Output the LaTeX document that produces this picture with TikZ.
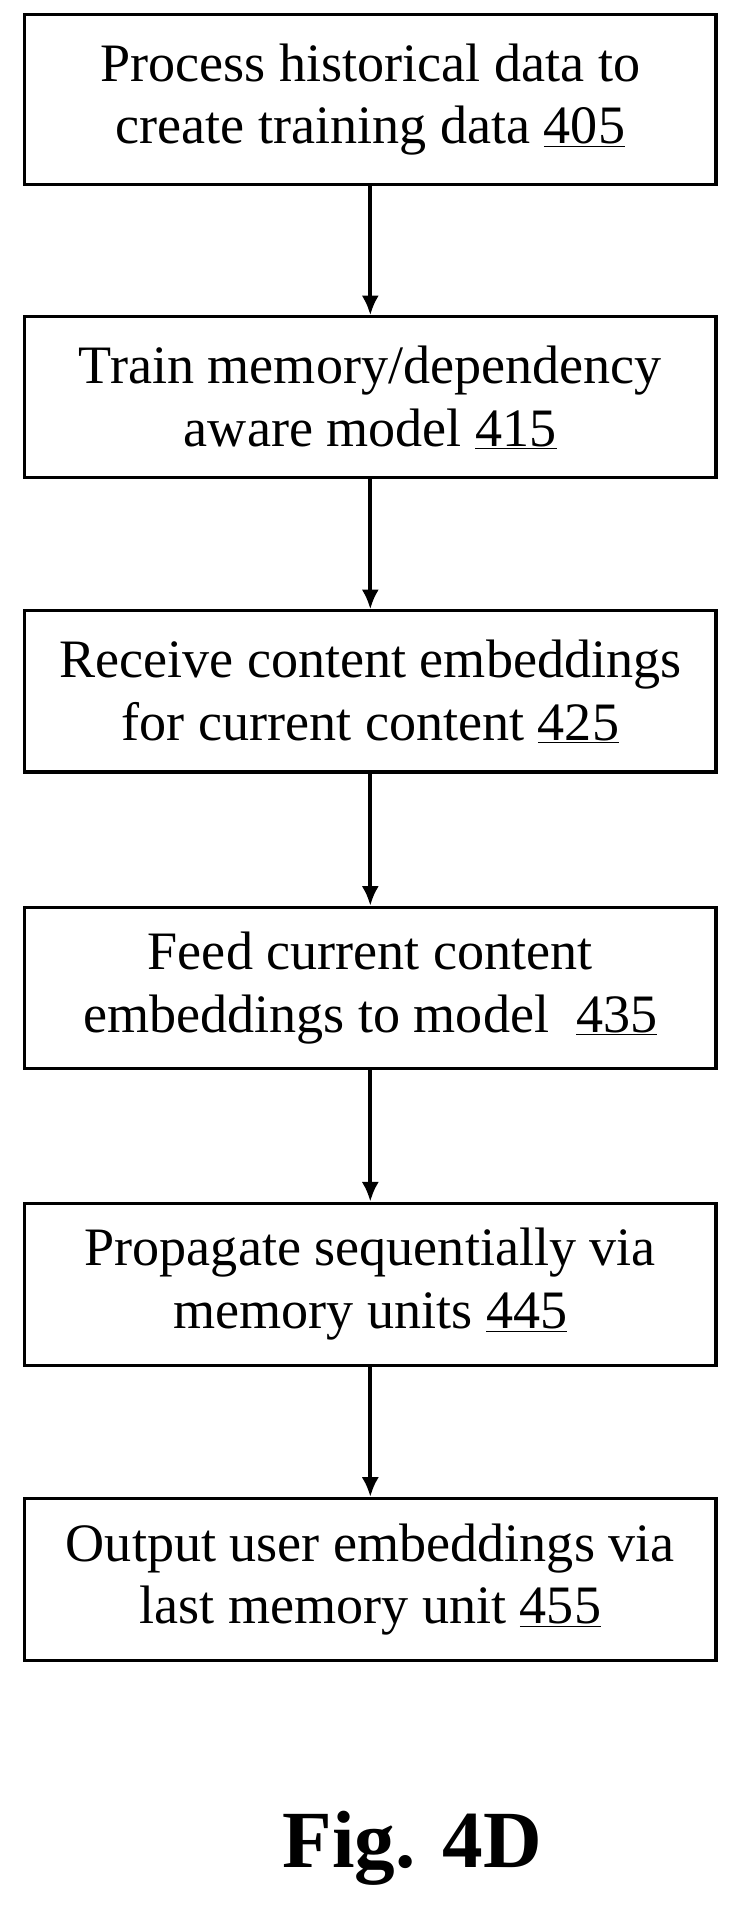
\documentclass[tikz,border=0pt]{standalone}
\usepackage{fontspec}
\setmainfont{Liberation Serif}
\usetikzlibrary{arrows.meta}
\begin{document}
\begin{tikzpicture}[x=1pt,y=-1pt,
  stepbox/.style={draw,line width=2.5pt,minimum width=562pt,minimum height=131pt,align=center,font=\fontsize{44}{51}\selectfont},
  arr/.style={-{Latex[length=16pt,width=14pt]},line width=3pt}]
\useasboundingbox (0,0) rectangle (605,1568);
\node[stepbox,minimum height=138pt] (a) at (301,81) {Process historical data to\\create training data \underline{405}};
\node[stepbox] (b) at (301,323) {Train memory/dependency\\aware model \underline{415}};
\node[stepbox] (c) at (301,562) {Receive content embeddings\\for current content \underline{425}};
\node[stepbox] (d) at (301,803) {Feed current content\\embeddings to model\ \ \underline{435}};
\node[stepbox,minimum height=132pt] (e) at (301,1044) {Propagate sequentially via\\memory units \underline{445}};
\node[stepbox,minimum height=132pt] (f) at (301,1284) {Output user embeddings via\\last memory unit \underline{455}};
\draw[arr] (a) -- (b);
\draw[arr] (b) -- (c);
\draw[arr] (c) -- (d);
\draw[arr] (d) -- (e);
\draw[arr] (e) -- (f);
\node[font=\fontsize{66}{70}\selectfont\bfseries] (fig) at (335,1502) {Fig. 4D};
\end{tikzpicture}
\end{document}
